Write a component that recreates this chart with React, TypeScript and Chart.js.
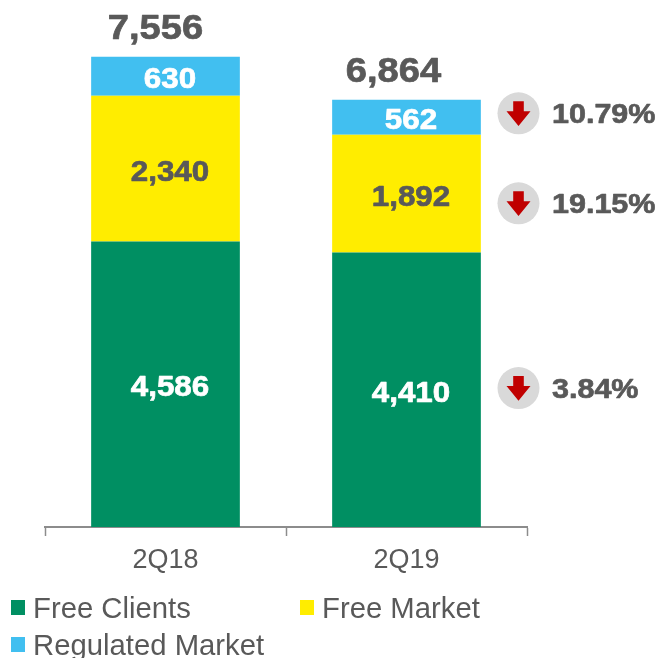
import React, { useEffect, useRef } from "react";
import { Chart, registerables } from "chart.js";

Chart.register(...registerables);

const categories = ["2Q18", "2Q19"];
const freeClients = [4586, 4410];
const freeMarket = [2340, 1892];
const regulatedMarket = [630, 562];
const totals = [7556, 6864];
const changeLabels = ["10.79%", "19.15%", "3.84%"];
const changeLevels = [6645, 5200, 2231];

const TEXT = "#595959";
const FONT = '"Liberation Sans", Arial, sans-serif';
const fmt = (v: number) => v.toLocaleString("en-US");

function stretched(ctx: any, text: string, x: number, y: number, size: number, sx: number, bold: boolean, color: string, align: CanvasTextAlign = "center") {
  ctx.save();
  ctx.translate(x, y);
  ctx.scale(sx, 1);
  ctx.font = `${bold ? "bold " : ""}${size}px ${FONT}`;
  ctx.fillStyle = color;
  ctx.textAlign = align;
  ctx.textBaseline = "middle";
  ctx.fillText(text, 0, 0);
  if (bold) {
    ctx.strokeStyle = color;
    ctx.lineWidth = 0.7;
    ctx.lineJoin = "round";
    ctx.strokeText(text, 0, 0);
  }
  ctx.restore();
}

const overlay = {
  id: "overlay",
  afterDatasetsDraw(chart: any) {
    const ctx = chart.ctx;
    const yScale = chart.scales.y;
    chart.data.datasets.forEach((ds: any, di: number) => {
      const meta = chart.getDatasetMeta(di);
      meta.data.forEach((bar: any, i: number) => {
        const cy = (bar.y + bar.base) / 2 + 4;
        stretched(ctx, fmt(ds.data[i]), bar.x + 4.5, cy, 29, 1.08, true, di === 1 ? TEXT : "#ffffff");
      });
    });
    const first = chart.getDatasetMeta(0).data;
    const totalShift = [-10, -13];
    totals.forEach((t, i) => {
      stretched(ctx, fmt(t), first[i].x + totalShift[i], yScale.getPixelForValue(t) - 27, 35, 1.09, true, TEXT);
    });
    const circleX = 518.5;
    changeLabels.forEach((label, i) => {
      const y = yScale.getPixelForValue(changeLevels[i]);
      ctx.beginPath();
      ctx.arc(circleX, y, 21, 0, Math.PI * 2);
      ctx.fillStyle = "#D9D9D9";
      ctx.fill();
      ctx.beginPath();
      ctx.moveTo(circleX - 5.3, y - 12);
      ctx.lineTo(circleX + 5.3, y - 12);
      ctx.lineTo(circleX + 5.3, y - 2);
      ctx.lineTo(circleX + 12, y - 2);
      ctx.lineTo(circleX, y + 12.7);
      ctx.lineTo(circleX - 12, y - 2);
      ctx.lineTo(circleX - 5.3, y - 2);
      ctx.closePath();
      ctx.fillStyle = "#C00000";
      ctx.fill();
      stretched(ctx, label, 552, y + 2, 28.5, 1.07, true, TEXT, "left");
    });
    const slots = [
      { x: 11, y: 607 },
      { x: 300, y: 607 },
      { x: 11, y: 644 },
    ];
    chart.data.datasets.forEach((ds: any, i: number) => {
      const s = slots[i];
      ctx.fillStyle = ds.backgroundColor;
      ctx.fillRect(s.x, s.y - 7, 14, 15);
      stretched(ctx, ds.label, s.x + 22, s.y + 3, 29, 1.01, false, TEXT, "left");
    });
  },
};

export default function App() {
  const ref = useRef<HTMLCanvasElement>(null);
  useEffect(() => {
    const chart = new Chart(ref.current as HTMLCanvasElement, {
      type: "bar",
      data: {
        labels: categories,
        datasets: [
          { label: "Free Clients", data: freeClients, backgroundColor: "#008F62" },
          { label: "Free Market", data: freeMarket, backgroundColor: "#FFED00" },
          { label: "Regulated Market", data: regulatedMarket, backgroundColor: "#41BFF0" },
        ],
      },
      options: {
        responsive: false,
        animation: false,
        devicePixelRatio: 1,
        layout: { padding: { left: 45, right: 134, top: 29, bottom: 0 } },
        plugins: { legend: { display: false }, tooltip: { enabled: false } },
        datasets: { bar: { barPercentage: 0.617, categoryPercentage: 1 } },
        scales: {
          x: {
            stacked: true,
            afterFit(scale: any) {
              scale.height = 131;
            },
            border: { color: "#8C8C8C", width: 2 },
            grid: { drawOnChartArea: false, drawTicks: true, tickLength: 9, tickColor: "#8C8C8C", tickWidth: 1.5 },
            ticks: { color: TEXT, font: { family: FONT, size: 27 }, padding: 8, maxRotation: 0 },
          },
          y: { stacked: true, display: false, min: 0, max: 8000 },
        },
      } as any,
      plugins: [overlay],
    });
    return () => chart.destroy();
  }, []);
  return (
    <canvas
      ref={ref}
      width={661}
      height={658}
      style={{ position: "absolute", left: 0, top: 0, width: 661, height: 658, display: "block" }}
    />
  );
}
